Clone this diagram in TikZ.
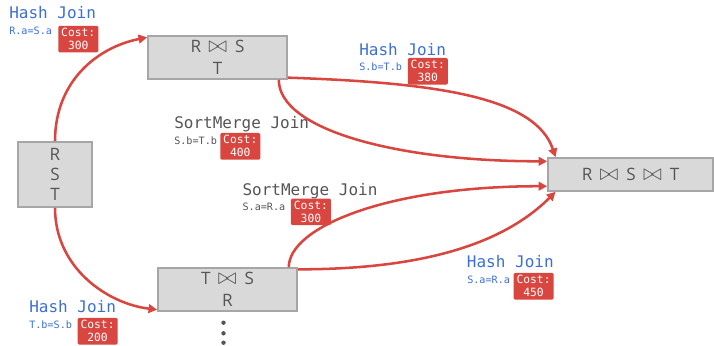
\documentclass[tikz,border=0pt]{standalone}
\usepackage{fontspec}
\setsansfont{Open Sans}
\setmonofont{DejaVu Sans Mono}
\usetikzlibrary{arrows.meta}

\definecolor{planred}{HTML}{D9453F}
\definecolor{planblue}{HTML}{3C6FD6}
\definecolor{plangray}{HTML}{555555}
\definecolor{boxfill}{HTML}{D9D9D9}
\definecolor{boxline}{HTML}{A6A6A6}

\newcommand{\jn}{\hspace{5.5pt}{\fontsize{16}{16.5}\selectfont$\bowtie$}\hspace{6pt}}

\tikzset{
  relbox/.style={draw=boxline, fill=boxfill, line width=1.2pt, text=plangray,
    font=\sffamily\fontsize{12.8}{16.5}\selectfont, align=center, inner sep=0pt},
  joinname/.style={anchor=base west, inner sep=0pt, font=\ttfamily\fontsize{12}{14}\selectfont},
  joincond/.style={anchor=base west, inner sep=0pt, font=\ttfamily\fontsize{7.6}{9}\selectfont},
  cost/.style={anchor=north west, fill=planred, text=white, rounded corners=1pt,
    inner sep=0pt, minimum width=30pt, minimum height=20pt, align=center,
    font=\ttfamily\fontsize{8.5}{9.75}\selectfont},
  plan/.style={draw=planred, line width=1.9pt, -{Triangle[length=6.5pt,width=6.5pt]}},
}

\begin{document}
\begin{tikzpicture}[x=0.75pt, y=0.75pt]
\useasboundingbox (0,0) rectangle (714,-346);

% relations
\node[relbox, minimum width=55.5pt, minimum height=48.75pt,
  font=\sffamily\fontsize{12.8}{15}\selectfont] (rst) at (55,-174.5) {R\\S\\T};
\node[relbox, minimum width=104.25pt, minimum height=32.25pt] (rs) at (217.5,-57.5) {R\jn S\\T};
\node[relbox, minimum width=104.25pt, minimum height=32.25pt] (ts) at (227.5,-289.5) {T\jn S\\R};
\node[relbox, minimum width=123.75pt, minimum height=24.75pt] (all) at (630.5,-174.5) {R\jn S\jn T};

% join paths
\draw[plan] (rst.north) .. controls +(0,60) and +(-50,-10) .. (rs.164);
\draw[plan] (rst.south) .. controls +(0,-60) and +(-50,6) .. (ts.196);
\draw[plan] (rs.-16) .. controls +(150,-5) and +(-20,60) .. (all.167);
\draw[plan] (rs.-20) .. controls +(0,-50) and +(-150,0) .. (all.171);
\draw[plan] (ts.20) .. controls +(0,40) and +(-160,0) .. (all.188);
\draw[plan] (ts.16) .. controls +(130,0) and +(-50,-50) .. (all.193);

\foreach \y in {322.7,333.3,342.7}
  \fill[plangray] (223.5,-\y) circle (2.2);

% labels
\node[joinname, text=planblue] (hjrs) at (9,-19) {Hash Join};
\node[joincond, text=planblue] (hjrs-cond) at (9,-35) {R.a=S.a};
\node[cost] (hjrs-cost) at (58,-25.5) {Cost:\\300};

\node[joinname, text=planblue] (hjrst) at (359,-55.5) {Hash Join};
\node[joincond, text=planblue] (hjrst-cond) at (359,-70.7) {S.b=T.b};
\node[cost] (hjrst-cost) at (407.5,-57.7) {Cost:\\380};

\node[joinname, text=plangray] (smrst) at (174,-128.3) {SortMerge Join};
\node[joincond, text=plangray] (smrst-cond) at (174,-144) {S.b=T.b};
\node[cost] (smrst-cost) at (220,-132.7) {Cost:\\400};

\node[joinname, text=plangray] (smtsr) at (242.3,-195) {SortMerge Join};
\node[joincond, text=plangray] (smtsr-cond) at (242.3,-210.7) {S.a=R.a};
\node[cost] (smtsr-cost) at (290.7,-198.3) {Cost:\\300};

\node[joinname, text=planblue] (hjtsr) at (466.7,-267.7) {Hash Join};
\node[joincond, text=planblue] (hjtsr-cond) at (467,-283.3) {S.a=R.a};
\node[cost] (hjtsr-cost) at (513.3,-272.7) {Cost:\\450};

\node[joinname, text=planblue] (hjts) at (29,-312.7) {Hash Join};
\node[joincond, text=planblue] (hjts-cond) at (29,-328.3) {T.b=S.b};
\node[cost] (hjts-cost) at (77.3,-317.7) {Cost:\\200};

\end{tikzpicture}
\end{document}
